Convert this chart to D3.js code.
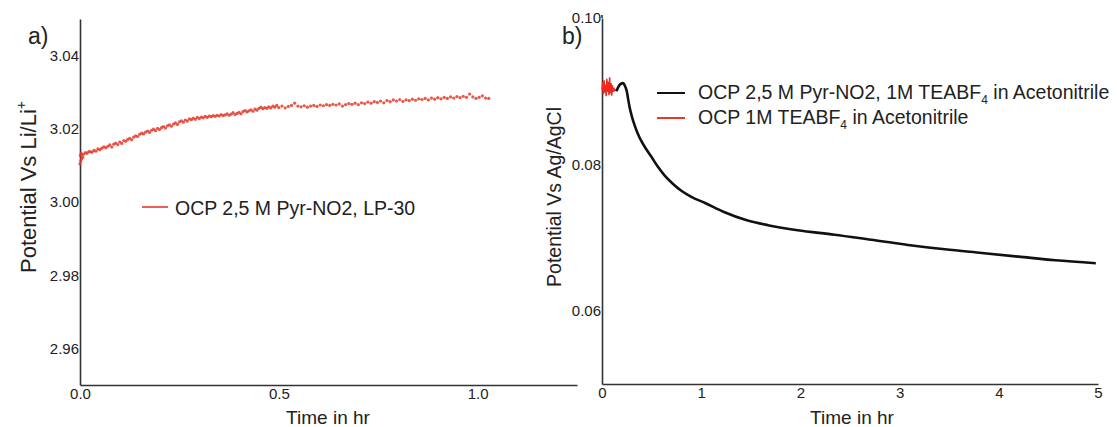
<!DOCTYPE html>
<html><head><meta charset="utf-8">
<script src="https://cdn.jsdelivr.net/npm/d3@7"></script>
<style>
html,body{margin:0;padding:0;background:#fff;}
svg{display:block;font-family:"Liberation Sans",Arial,sans-serif;}
</style></head>
<body>
<svg id="c" width="1117" height="427"></svg>
<script>
// ---------- Panel a data ----------
const xTicksA = [0, 0.5, 1.0];
const yTicksA = [2.96, 2.98, 3.00, 3.02, 3.04];
const timeA = [0.000,0.001,0.002,0.003,0.004,0.005,0.007,0.010,0.014,0.018,0.022,0.026,0.030,0.035,0.040,0.045,0.050,0.055,0.060,0.065,0.070,0.075,0.080,0.085,0.090,0.095,0.100,0.105,0.110,0.115,0.120,0.125,0.130,0.135,0.140,0.145,0.150,0.155,0.160,0.165,0.170,0.175,0.180,0.185,0.190,0.195,0.200,0.205,0.210,0.215,0.220,0.225,0.230,0.235,0.240,0.245,0.250,0.255,0.260,0.265,0.270,0.275,0.280,0.285,0.290,0.295,0.300,0.305,0.310,0.315,0.320,0.325,0.330,0.335,0.340,0.345,0.350,0.355,0.360,0.365,0.370,0.375,0.380,0.385,0.390,0.395,0.400,0.405,0.410,0.415,0.420,0.425,0.430,0.435,0.440,0.445,0.450,0.455,0.460,0.465,0.470,0.475,0.480,0.485,0.490,0.495,0.500,0.508,0.516,0.524,0.532,0.540,0.548,0.556,0.564,0.572,0.580,0.588,0.596,0.604,0.612,0.620,0.628,0.636,0.644,0.652,0.660,0.668,0.676,0.684,0.692,0.700,0.708,0.716,0.724,0.732,0.740,0.748,0.756,0.764,0.772,0.780,0.788,0.796,0.804,0.812,0.820,0.828,0.836,0.844,0.852,0.860,0.868,0.876,0.884,0.892,0.900,0.908,0.916,0.924,0.932,0.940,0.948,0.956,0.964,0.972,0.980,0.988,0.996,1.004,1.012,1.020,1.028];
const potentialA = [3.0104,3.0127,3.0112,3.0133,3.0118,3.0129,3.0122,3.0131,3.0135,3.0133,3.0138,3.0137,3.0136,3.0141,3.0139,3.0145,3.0143,3.0147,3.0151,3.0148,3.0152,3.0156,3.0150,3.0158,3.0161,3.0157,3.0164,3.0160,3.0168,3.0166,3.0171,3.0174,3.0170,3.0177,3.0181,3.0179,3.0185,3.0188,3.0186,3.0191,3.0194,3.0190,3.0196,3.0199,3.0195,3.0201,3.0198,3.0203,3.0206,3.0202,3.0208,3.0211,3.0207,3.0213,3.0216,3.0212,3.0219,3.0222,3.0218,3.0224,3.0221,3.0227,3.0225,3.0229,3.0226,3.0231,3.0228,3.0232,3.0230,3.0234,3.0231,3.0235,3.0233,3.0236,3.0234,3.0237,3.0235,3.0239,3.0236,3.0238,3.0241,3.0237,3.0240,3.0244,3.0239,3.0242,3.0245,3.0241,3.0247,3.0250,3.0246,3.0249,3.0252,3.0248,3.0254,3.0251,3.0256,3.0259,3.0255,3.0258,3.0256,3.0260,3.0257,3.0262,3.0259,3.0264,3.0258,3.0262,3.0257,3.0261,3.0264,3.0270,3.0262,3.0260,3.0263,3.0259,3.0262,3.0264,3.0261,3.0265,3.0263,3.0266,3.0264,3.0267,3.0265,3.0268,3.0262,3.0266,3.0269,3.0267,3.0270,3.0266,3.0271,3.0269,3.0273,3.0270,3.0274,3.0272,3.0276,3.0271,3.0277,3.0274,3.0279,3.0276,3.0280,3.0275,3.0279,3.0277,3.0281,3.0278,3.0282,3.0280,3.0283,3.0279,3.0284,3.0281,3.0285,3.0282,3.0286,3.0283,3.0287,3.0284,3.0288,3.0285,3.0289,3.0286,3.0295,3.0287,3.0283,3.0286,3.0290,3.0284,3.0283];
const legendA = "OCP 2,5 M Pyr-NO2, LP-30";

// ---------- Panel b data ----------
const xTicksB = [0, 1, 2, 3, 4, 5];
const yTicksB = [0.06, 0.08, 0.10];
const timeBlack = [0.145,0.170,0.190,0.210,0.235,0.250,0.265,0.280,0.302,0.330,0.358,0.400,0.450,0.500,0.562,0.630,0.711,0.800,0.896,1.044,1.230,1.452,1.673,1.972,2.343,2.714,3.085,3.457,3.828,4.199,4.570,4.978];
const potentialBlack = [0.0900,0.0907,0.0910,0.0911,0.0906,0.0900,0.0888,0.0877,0.0865,0.0853,0.0843,0.0831,0.0820,0.0810,0.0797,0.0785,0.0774,0.0764,0.0756,0.0747,0.0735,0.0724,0.0717,0.0710,0.0704,0.0697,0.0690,0.0684,0.0679,0.0674,0.0669,0.0665];
const timeRed = [0.000,0.007,0.014,0.021,0.028,0.035,0.042,0.049,0.056,0.063,0.070,0.077,0.084,0.091,0.098,0.105,0.112,0.119,0.126,0.133];
const potentialRed = [0.0902,0.0912,0.0896,0.0915,0.0898,0.0909,0.0893,0.0917,0.0899,0.0913,0.0895,0.0919,0.0897,0.0911,0.0894,0.0908,0.0899,0.0905,0.0900,0.0903];
const legendB = ["OCP 2,5 M Pyr-NO2, 1M TEABF", "OCP 1M TEABF"];

const svg = d3.select("#c");
const AX = "#333";
const RED = "#e5392c";

function styleAxis(g){
  g.select(".domain").attr("stroke", AX).attr("stroke-width", 1.6);
  g.selectAll(".tick line").remove();
  g.selectAll(".tick text").attr("fill","#222").attr("font-size","15px")
    .attr("font-family","Liberation Sans, Arial, sans-serif");
}

// ===== Panel a =====
const xA = d3.scaleLinear().domain([0, 1.25]).range([80, 577]);
const yA = d3.scaleLinear().domain([2.95, 3.05]).range([385, 19]);

svg.append("g").attr("transform","translate(0,385)")
  .call(d3.axisBottom(xA).tickValues(xTicksA).tickFormat(d3.format(".1f")).tickSizeInner(0).tickSizeOuter(0).tickPadding(3))
  .call(styleAxis);
svg.append("g").attr("transform","translate(80,0)")
  .call(d3.axisLeft(yA).tickValues(yTicksA).tickFormat(d3.format(".2f")).tickSizeInner(0).tickSizeOuter(0).tickPadding(1))
  .call(styleAxis);

svg.append("g").selectAll("circle").data(timeA.map((t,i)=>[t,potentialA[i]])).join("circle")
  .attr("cx", d=>xA(d[0])).attr("cy", d=>yA(d[1])).attr("r", 1.6)
  .attr("fill", RED).attr("fill-opacity",0.85);

svg.append("text").attr("x",28).attr("y",44).attr("font-size","23px").attr("fill","#222").text("a)");

const ta = svg.append("text").attr("transform","translate(36,187) rotate(-90)")
  .attr("text-anchor","middle").attr("font-size","22px").attr("fill","#222");
ta.append("tspan").text("Potential Vs Li/Li");
ta.append("tspan").attr("font-size","14px").attr("dy","-10").text("+");

svg.append("text").attr("x",328).attr("y",424).attr("text-anchor","middle")
  .attr("font-size","19px").attr("fill","#222").text("Time in hr");

svg.append("line").attr("x1",142).attr("x2",168).attr("y1",207).attr("y2",207)
  .attr("stroke",RED).attr("stroke-width",1.6);
svg.append("text").attr("x",175).attr("y",215).attr("font-size","19.5px").attr("fill","#222").text(legendA);

// ===== Panel b =====
const xB = d3.scaleLinear().domain([0, 5]).range([602, 1098]);
const yB = d3.scaleLinear().domain([0.05, 0.10]).range([384, 18]);

svg.append("g").attr("transform","translate(0,384)")
  .call(d3.axisBottom(xB).tickValues(xTicksB).tickFormat(d3.format("d")).tickSizeInner(0).tickSizeOuter(0).tickPadding(3))
  .call(styleAxis);
svg.append("g").attr("transform","translate(602,0)")
  .call(d3.axisLeft(yB).tickValues(yTicksB).tickFormat(d3.format(".2f")).tickSizeInner(0).tickSizeOuter(0).tickPadding(1))
  .call(styleAxis);
svg.append("line").attr("x1",602).attr("x2",602).attr("y1",15).attr("y2",18).attr("stroke",AX).attr("stroke-width",1.6);

const lineB = d3.line().x(d=>xB(d[0])).y(d=>yB(d[1]));
svg.append("path").datum(timeRed.map((t,i)=>[t,potentialRed[i]]))
  .attr("d", lineB).attr("fill","none").attr("stroke","#ee2a1f").attr("stroke-width",1.5);
svg.append("path").datum(timeBlack.map((t,i)=>[t,potentialBlack[i]]))
  .attr("d", lineB.curve(d3.curveMonotoneX)).attr("fill","none").attr("stroke","#111").attr("stroke-width",2.6);

svg.append("text").attr("x",562).attr("y",44).attr("font-size","23px").attr("fill","#222").text("b)");

svg.append("text").attr("transform","translate(561,197) rotate(-90)")
  .attr("text-anchor","middle").attr("font-size","19.5px").attr("fill","#222").text("Potential Vs Ag/AgCl");

svg.append("text").attr("x",852).attr("y",424).attr("text-anchor","middle")
  .attr("font-size","19px").attr("fill","#222").text("Time in hr");

const legCols = ["#111", "#e5392c"];
const legY = [93, 118];
legendB.forEach((lab,i)=>{
  svg.append("line").attr("x1",657).attr("x2",685).attr("y1",legY[i]).attr("y2",legY[i])
    .attr("stroke",legCols[i]).attr("stroke-width",2);
  const t = svg.append("text").attr("x",698).attr("y",legY[i]+6).attr("font-size","19.5px").attr("fill","#222");
  t.append("tspan").text(lab);
  t.append("tspan").attr("font-size","12px").attr("dy","5").text("4");
  t.append("tspan").attr("dy","-5").text(" in Acetonitrile");
});
</script>
</body></html>
